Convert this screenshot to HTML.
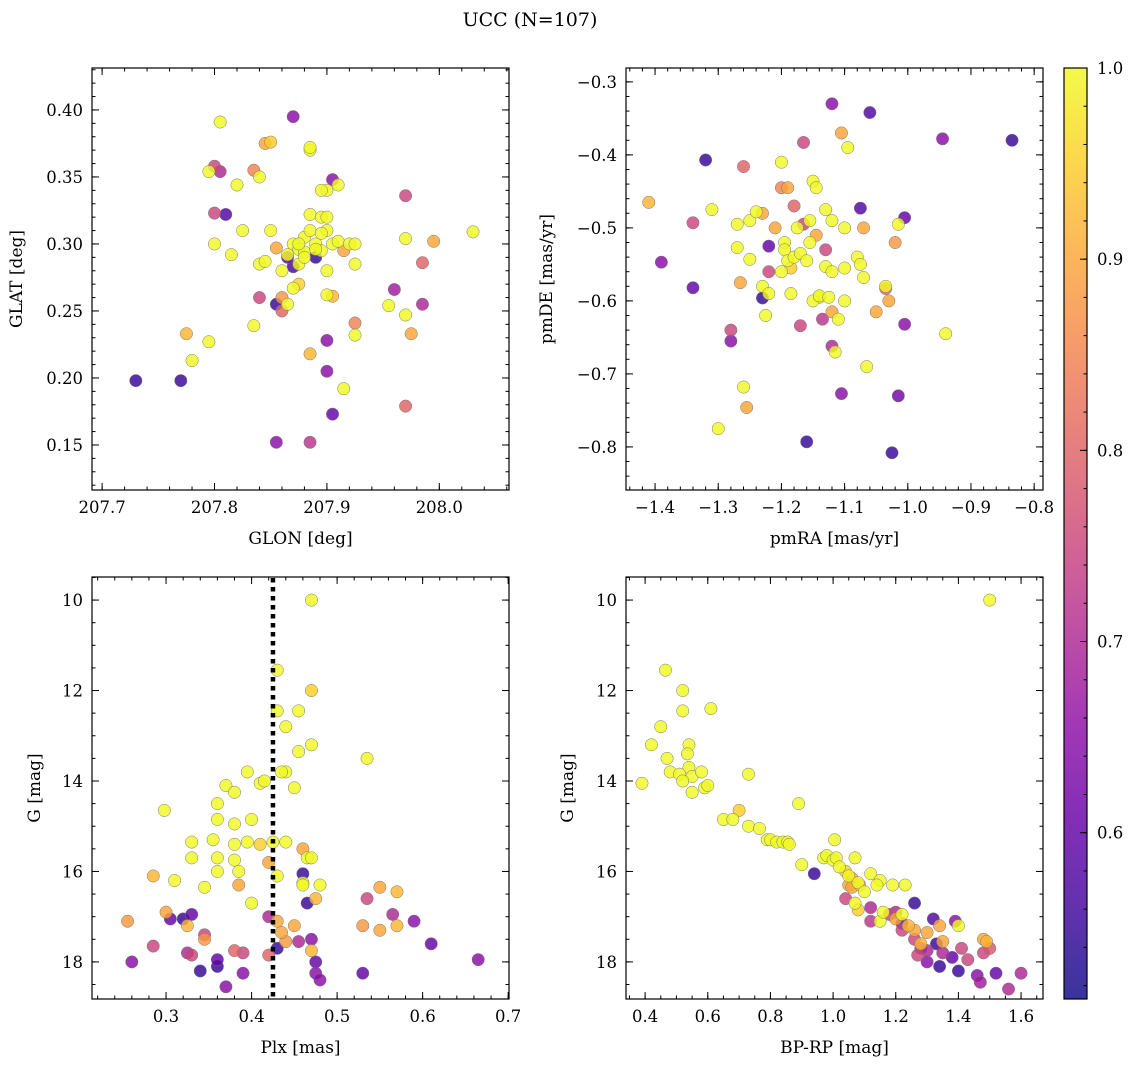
<!DOCTYPE html>
<html><head><meta charset="utf-8"><style>
html,body{margin:0;padding:0;background:#fff;}
svg{display:block;font-family:"DejaVu Serif","Liberation Serif",serif;}
</style></head><body>
<svg id="fig" width="1136" height="1067" viewBox="0 0 1136 1067" xmlns="http://www.w3.org/2000/svg">
<text x="530" y="26" text-anchor="middle" font-size="19">UCC (N=107)</text>
</svg>
<script>
// ---------- data ----------
const p1 = [[207.73,0.198,.55],[207.77,0.198,.55],[207.87,0.395,.65],[207.81,0.322,.58],[207.855,0.255,.55],[207.87,0.283,.57],[207.855,0.152,.65],[207.885,0.152,.72],[207.905,0.173,.6],[207.9,0.205,.65],[207.9,0.228,.65],[207.905,0.348,.65],[207.96,0.266,.68],[207.985,0.255,.7],[207.89,0.29,.55],[207.865,0.29,.6],[207.8,0.358,.75],[207.805,0.354,.7],[207.8,0.323,.75],[207.84,0.26,.75],[207.86,0.25,.8],[207.97,0.336,.75],[207.97,0.179,.8],[207.985,0.286,.8],[207.925,0.241,.85],[207.86,0.26,.88],
[207.805,0.391,1],[207.845,0.375,.9],[207.85,0.376,.95],[207.835,0.355,.85],[207.795,0.354,1],[207.82,0.344,1],[207.84,0.35,1],[207.825,0.31,1],[207.8,0.3,1],[207.815,0.292,1],[207.84,0.285,1],[207.845,0.287,1],[207.85,0.31,1],[207.855,0.297,.9],[207.835,0.239,1],[207.795,0.227,1],[207.78,0.213,1],[207.775,0.233,.92],[207.885,0.37,1],[207.885,0.372,1],[207.9,0.34,1],[207.895,0.34,1],[207.91,0.344,1],[207.885,0.322,1],[207.895,0.32,1],[207.9,0.32,1],[207.87,0.3,1],[207.875,0.296,1],[207.88,0.305,1],[207.885,0.31,1],[207.89,0.3,1],[207.895,0.295,1],[207.9,0.31,1],[207.905,0.3,1],[207.91,0.302,1],[207.92,0.3,1],[207.925,0.3,1],[207.915,0.295,.9],[207.925,0.285,1],[207.9,0.28,1],[207.9,0.262,1],[207.905,0.261,.92],[207.88,0.294,1],[207.875,0.285,1],[207.87,0.267,1],[207.875,0.27,.95],[207.865,0.255,1],[207.86,0.28,1],[207.865,0.292,1],[207.925,0.232,1],[207.915,0.192,1],[207.885,0.218,.92],[207.955,0.254,1],[207.97,0.247,1],[207.975,0.233,.9],[207.97,0.304,1],[207.995,0.302,.9],[208.03,0.309,1],[207.895,0.308,1],[207.89,0.296,1],[207.88,0.29,1],[207.875,0.3,1]];
const p2 = [[-1.32,-0.407,.55],[-1.12,-0.33,.65],[-1.06,-0.342,.58],[-0.945,-0.378,.65],[-0.835,-0.38,.55],[-1.39,-0.547,.65],[-1.34,-0.582,.6],[-1.34,-0.493,.75],[-1.28,-0.655,.65],[-1.28,-0.64,.75],[-1.23,-0.596,.55],[-1.22,-0.525,.6],[-1.22,-0.56,.75],[-1.165,-0.383,.75],[-1.17,-0.634,.75],[-1.16,-0.793,.55],[-1.12,-0.662,.7],[-1.105,-0.727,.65],[-1.075,-0.473,.58],[-1.005,-0.486,.6],[-1.005,-0.632,.65],[-1.015,-0.73,.62],[-1.025,-0.808,.55],[-1.18,-0.47,.8],[-1.165,-0.495,.75],[-1.13,-0.53,.75],[-1.135,-0.625,.72],[-1.035,-0.583,.8],[-1.2,-0.445,.85],[-1.26,-0.416,.8],
[-1.41,-0.465,.92],[-1.31,-0.475,1],[-1.26,-0.718,1],[-1.3,-0.775,1],[-1.255,-0.746,.9],[-1.265,-0.575,.9],[-1.27,-0.527,1],[-1.27,-0.495,1],[-1.25,-0.49,1],[-1.24,-0.478,1],[-1.23,-0.48,.9],[-1.25,-0.543,1],[-1.23,-0.58,1],[-1.225,-0.62,1],[-1.22,-0.59,1],[-1.21,-0.5,.9],[-1.2,-0.41,1],[-1.19,-0.445,.9],[-1.195,-0.52,1],[-1.195,-0.53,1],[-1.19,-0.545,1],[-1.2,-0.56,1],[-1.185,-0.555,.95],[-1.18,-0.54,1],[-1.185,-0.59,1],[-1.17,-0.535,1],[-1.155,-0.52,1],[-1.155,-0.49,1],[-1.145,-0.51,.9],[-1.16,-0.545,1],[-1.15,-0.436,1],[-1.145,-0.445,1],[-1.14,-0.595,1],[-1.15,-0.6,1],[-1.14,-0.593,1],[-1.13,-0.475,1],[-1.13,-0.553,1],[-1.125,-0.595,1],[-1.12,-0.49,1],[-1.12,-0.615,.9],[-1.115,-0.67,1],[-1.11,-0.625,1],[-1.1,-0.6,1],[-1.1,-0.555,1],[-1.1,-0.5,1],[-1.095,-0.39,1],[-1.105,-0.37,.9],[-1.08,-0.54,1],[-1.075,-0.55,1],[-1.07,-0.568,1],[-1.07,-0.5,.9],[-1.065,-0.69,1],[-1.05,-0.615,.9],[-1.03,-0.6,.9],[-1.02,-0.52,.88],[-1.015,-0.495,1],[-1.035,-0.58,1],[-0.94,-0.645,1],[-1.175,-0.5,1],[-1.12,-0.56,1]];
const p3 = [[0.26,18.0,.65],[0.305,17.05,.6],[0.32,17.05,.55],[0.33,16.95,.6],[0.34,18.2,.55],[0.36,18.1,.55],[0.36,17.95,.6],[0.37,18.55,.65],[0.39,18.25,.65],[0.43,17.7,.55],[0.465,16.7,.55],[0.47,17.5,.65],[0.475,18.0,.6],[0.475,18.25,.65],[0.48,18.4,.65],[0.53,18.25,.6],[0.59,17.1,.65],[0.61,17.6,.6],[0.665,17.95,.65],[0.46,16.05,.55],[0.455,17.55,.7],[0.42,17.0,.7],[0.33,17.85,.75],[0.325,17.8,.7],[0.285,17.65,.75],[0.345,17.4,.75],[0.38,17.75,.8],[0.39,17.8,.75],[0.565,16.95,.7],[0.535,16.6,.75],[0.42,17.85,.8],
[0.47,10.0,1],[0.43,11.55,1],[0.47,12.0,.95],[0.455,12.45,1],[0.43,12.45,1],[0.44,12.8,1],[0.47,13.2,1],[0.455,13.35,1],[0.535,13.5,1],[0.395,13.8,1],[0.44,13.8,1],[0.435,13.8,1],[0.41,14.05,1],[0.415,14.0,1],[0.37,14.1,1],[0.38,14.25,1],[0.45,14.15,1],[0.298,14.65,1],[0.36,14.5,1],[0.36,14.85,1],[0.38,14.95,1],[0.4,14.85,1],[0.44,15.35,1],[0.33,15.35,1],[0.355,15.3,1],[0.38,15.4,1],[0.395,15.35,1],[0.41,15.4,.95],[0.425,15.35,1],[0.33,15.7,1],[0.36,15.7,1],[0.38,15.75,1],[0.42,15.8,.9],[0.46,15.5,.9],[0.465,15.7,1],[0.47,15.7,1],[0.385,16.0,1],[0.36,16.0,1],[0.43,16.1,1],[0.46,16.25,1],[0.46,16.3,1],[0.48,16.3,1],[0.345,16.35,1],[0.385,16.3,.9],[0.31,16.2,1],[0.285,16.1,.92],[0.4,16.7,1],[0.475,16.6,.92],[0.45,17.2,.9],[0.43,17.1,.9],[0.435,17.35,.9],[0.44,17.55,.88],[0.47,17.75,.92],[0.325,17.2,.92],[0.3,16.9,.9],[0.255,17.1,.88],[0.345,17.5,.88],[0.55,16.35,.9],[0.57,16.45,.92],[0.53,17.2,.88],[0.55,17.3,.9],[0.57,17.2,.92]];
const p4 = [[1.5,10.0,1],[0.465,11.55,1],[0.52,12.0,1],[0.52,12.45,1],[0.61,12.4,1],[0.45,12.8,1],[0.42,13.2,1],[0.47,13.5,1],[0.54,13.2,1],[0.535,13.4,1],[0.54,13.7,1],[0.48,13.8,1],[0.51,13.85,1],[0.55,13.9,1],[0.58,13.8,1],[0.52,14.0,1],[0.39,14.05,1],[0.59,14.15,1],[0.6,14.1,1],[0.55,14.25,1],[0.73,13.85,1],[0.7,14.65,.95],[0.89,14.5,1],[0.65,14.85,1],[0.68,14.85,1],[0.73,15.0,1],[0.765,15.05,1],[0.79,15.3,1],[0.8,15.3,1],[0.82,15.35,1],[0.84,15.35,1],[0.855,15.35,1],[0.86,15.4,1],[1.005,15.3,1],[0.9,15.85,1],[0.97,15.7,1],[0.98,15.65,1],[1.0,15.75,1],[1.01,15.7,1],[1.07,15.7,1],[1.02,15.9,1],[1.04,16.0,.95],[1.05,16.1,1],[1.06,16.15,.9],[1.05,16.3,.9],[1.08,16.25,1],[1.06,16.35,.9],[1.085,16.3,.92],[1.12,16.05,1],[1.15,16.2,1],[1.1,16.45,1],[1.07,16.7,1],[1.08,16.85,.95],[1.14,16.3,1],[1.19,16.3,1],[1.23,16.3,1],[1.15,17.1,1],[1.2,17.05,.9],[1.16,16.9,1],[1.22,16.95,1],[1.26,17.3,.9],[1.24,17.2,.92],[1.3,17.35,.9],[1.28,17.6,.92],[1.34,17.2,.9],[1.35,17.55,.9],[1.4,17.2,1],[1.48,17.5,.9],[1.49,17.55,.92],
[0.94,16.05,.55],[1.04,16.6,.75],[1.12,16.8,.7],[1.12,17.1,.72],[1.18,16.95,.75],[1.2,16.9,.7],[1.26,16.7,.55],[1.22,17.15,.6],[1.26,17.5,.75],[1.28,17.7,.7],[1.32,17.05,.58],[1.33,17.6,.55],[1.3,17.75,.7],[1.3,18.0,.65],[1.34,18.1,.55],[1.35,17.8,.7],[1.39,17.1,.65],[1.4,18.2,.55],[1.38,17.9,.6],[1.46,18.3,.65],[1.47,18.45,.68],[1.52,18.25,.6],[1.56,18.6,.7],[1.6,18.25,.7],[1.48,17.8,.75],[1.5,17.7,.78],[1.43,17.95,.75],[1.41,17.7,.75],[1.27,17.85,.75],[1.22,17.3,.75]];
const p1xTicks=[207.7,207.8,207.9,208.0], p1yTicks=[0.15,0.20,0.25,0.30,0.35,0.40];
const p2xTicks=[-1.4,-1.3,-1.2,-1.1,-1.0,-0.9,-0.8], p2yTicks=[-0.8,-0.7,-0.6,-0.5,-0.4,-0.3];
const p3xTicks=[0.3,0.4,0.5,0.6,0.7], gTicks=[10,12,14,16,18];
const p4xTicks=[0.4,0.6,0.8,1.0,1.2,1.4,1.6];
const cbTicks=[0.6,0.7,0.8,0.9,1.0];
const plxLine=0.425;
const vmin=0.513, vmax=1.0;

// ---------- helpers ----------
const NS="http://www.w3.org/2000/svg";
const svg=document.getElementById('fig');
function mk(tag,attrs,parent){const e=document.createElementNS(NS,tag);for(const k in attrs)e.setAttribute(k,attrs[k]);(parent||svg).appendChild(e);return e;}
const stops=['#0d0887','#41049d','#6a00a8','#8f0da4','#b12a90','#cc4778','#e16462','#f2844b','#fca636','#fcce25','#f0f921'];
function hx(h){return [1,3,5].map(i=>parseInt(h.substr(i,2),16));}
function plasma(t){t=Math.max(0,Math.min(1,t));const f=t*10,i=Math.min(9,Math.floor(f)),r=f-i;const a=hx(stops[i]),b=hx(stops[i+1]);return 'rgb('+a.map((v,k)=>Math.round(v+(b[k]-v)*r)).join(',')+')';}
function fmt(v,d){return (v<0?'\u2212':'')+Math.abs(v).toFixed(d);}

function panel(name,box,xr,yr,xt,yt,xd,yd,xminor,yminor,data,xlabel,ylabel,yx){
  const [L,T,R,B]=box;
  const g=mk('g',{});
  
  
  const sx=v=>L+(v-xr[0])/(xr[1]-xr[0])*(R-L);
  const sy=v=>B-(v-yr[0])/(yr[1]-yr[0])*(B-T);
  const pts=data.slice().sort((a,b)=>a[2]-b[2]);
  pts.forEach(d=>{
    const c=mk('circle',{cx:sx(d[0]),cy:sy(d[1]),r:6.2,fill:plasma((d[2]-vmin)/(vmax-vmin)),'fill-opacity':0.82,stroke:'#777','stroke-width':0.5},g);
    
    
  });
  const tk=mk('g',{stroke:'#000','stroke-width':1},g);
  const lo=Math.min(xr[0],xr[1]),hi=Math.max(xr[0],xr[1]);
  for(let v=Math.ceil(lo/xminor-1e-6)*xminor;v<=hi+1e-9;v+=xminor){const x=sx(v);mk('line',{x1:x,x2:x,y1:B,y2:B-3.5},tk);mk('line',{x1:x,x2:x,y1:T,y2:T+3.5},tk);}
  const ylo=Math.min(yr[0],yr[1]),yhi=Math.max(yr[0],yr[1]);
  for(let v=Math.ceil(ylo/yminor-1e-6)*yminor;v<=yhi+1e-9;v+=yminor){const y=sy(v);mk('line',{y1:y,y2:y,x1:L,x2:L+3.5},tk);mk('line',{y1:y,y2:y,x1:R,x2:R-3.5},tk);}
  xt.forEach(v=>{const x=sx(v);mk('line',{x1:x,x2:x,y1:B,y2:B-7},tk);mk('line',{x1:x,x2:x,y1:T,y2:T+7},tk);
    const t=mk('text',{x:x,y:B+23,'text-anchor':'middle','font-size':16.5},g);t.textContent=fmt(v,xd);
    });
  yt.forEach(v=>{const y=sy(v);mk('line',{y1:y,y2:y,x1:L,x2:L+7},tk);mk('line',{y1:y,y2:y,x1:R,x2:R-7},tk);
    const t=mk('text',{x:L-9,y:y+6,'text-anchor':'end','font-size':16.5},g);t.textContent=fmt(v,yd);
    });
  const fr=mk('rect',{x:L,y:T,width:R-L,height:B-T,fill:'none',stroke:'#000','stroke-width':1.2},g);
  
  const xl=mk('text',{x:(L+R)/2,y:B+54,'text-anchor':'middle','font-size':17},g);xl.textContent=xlabel;
  
  const yl=mk('text',{x:yx,y:(T+B)/2,'text-anchor':'middle','font-size':17,transform:`rotate(-90 ${yx} ${(T+B)/2})`},g);yl.textContent=ylabel;
  
  return {sx,sy,g};
}

panel('panel-glon-glat',[92,68,509,490],[207.691,208.062],[0.1164,0.4313],p1xTicks,p1yTicks,1,2,0.02,0.01,p1,'GLON [deg]','GLAT [deg]',22);
panel('panel-pm',[626,68,1043,490],[-1.446,-0.786],[-0.859,-0.281],p2xTicks,p2yTicks,1,1,0.02,0.02,p2,'pmRA [mas/yr]','pmDE [mas/yr]',552);
const P3=panel('panel-plx-g',[92,577,509,999],[0.2134,0.701],[18.82,9.49],p3xTicks,gTicks,1,0,0.02,0.5,p3,'Plx [mas]','G [mag]',40);
panel('panel-cmd',[626,577,1043,999],[0.339,1.67],[18.82,9.49],p4xTicks,gTicks,1,0,0.05,0.5,p4,'BP-RP [mag]','G [mag]',573);

const vl=mk('line',{x1:P3.sx(plxLine),x2:P3.sx(plxLine),y1:578,y2:998,stroke:'#000','stroke-width':4.5,'stroke-dasharray':'4.5,4.5'});



// colorbar
const CL=1064,CR=1087,CT=68,CB=999;
const cb=mk('g',{});


const defs=mk('defs',{});
const lg=mk('linearGradient',{id:'cg',x1:0,y1:1,x2:0,y2:0},defs);
for(let i=0;i<=20;i++){mk('stop',{offset:i/20,'stop-color':plasma(i/20),'stop-opacity':0.82},lg);}
mk('rect',{x:CL,y:CT,width:CR-CL,height:CB-CT,fill:'url(#cg)'},cb);
const csy=v=>CB-(v-vmin)/(vmax-vmin)*(CB-CT);
for(let v=0.52;v<=1.0001;v+=0.02){const y=csy(v);mk('line',{x1:CR,x2:CR-3.5,y1:y,y2:y,stroke:'#000'},cb);}
cbTicks.forEach(v=>{const y=csy(v);mk('line',{x1:CR,x2:CR-7,y1:y,y2:y,stroke:'#000'},cb);
  const t=mk('text',{x:CR+10,y:y+6,'font-size':16.5},cb);t.textContent=v.toFixed(1);
  });
mk('rect',{x:CL,y:CT,width:CR-CL,height:CB-CT,fill:'none',stroke:'#000','stroke-width':1.2},cb);
</script>
</body></html>
